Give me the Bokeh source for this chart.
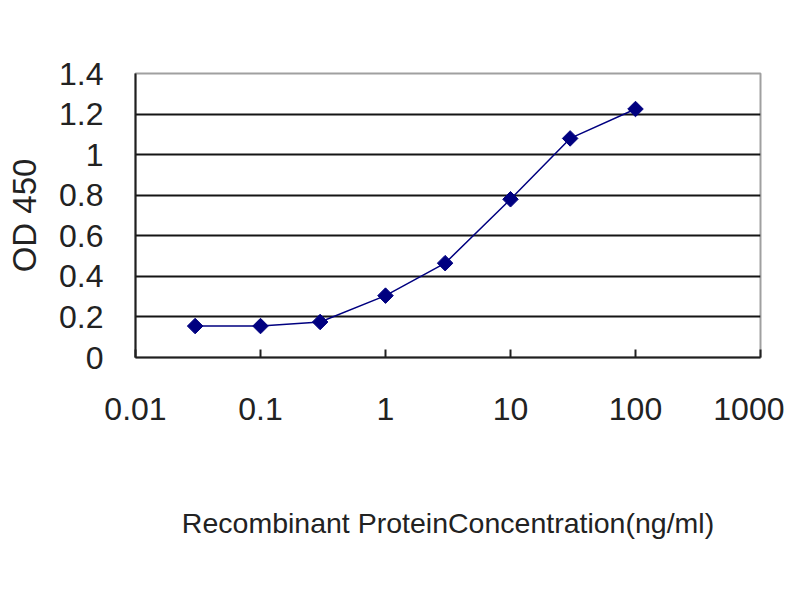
from bokeh.plotting import figure
from bokeh.models import FixedTicker
from bokeh.embed import file_html
from bokeh.resources import INLINE

# concentration (ng/ml) and OD 450
conc = [0.03, 0.1, 0.3, 1, 3, 10, 30, 100]
od450 = [0.155, 0.155, 0.175, 0.305, 0.465, 0.78, 1.08, 1.225]

x_ticks = [0.01, 0.1, 1, 10, 100, 1000]
x_labels = ["0.01", "0.1", "1", "10", "100", "1000"]
y_ticks = [0, 0.2, 0.4, 0.6, 0.8, 1.0, 1.2, 1.4]
y_labels = ["0", "0.2", "0.4", "0.6", "0.8", "1", "1.2", "1.4"]

FONT = "Liberation Sans"
NAVY = "#000080"

p = figure(width=784, height=584, x_axis_type="log",
           x_range=(0.01, 1000), y_range=(0, 1.4),
           output_backend="svg", toolbar_location=None,
           min_border_left=135, min_border_right=24,
           min_border_top=73, min_border_bottom=227)

p.background_fill_color = "white"
p.border_fill_color = "white"
p.outline_line_color = "#a0a0a0"
p.outline_line_width = 2

# horizontal grid lines, black like the original
p.xgrid.visible = False
p.ygrid.ticker = FixedTicker(ticks=y_ticks[1:-1])
p.ygrid.grid_line_color = "#151515"
p.ygrid.grid_line_width = 2

# x axis
p.xaxis.ticker = FixedTicker(ticks=x_ticks)
p.xaxis.major_label_overrides = dict(zip(x_ticks, x_labels))
p.xaxis.minor_tick_line_color = None
p.xaxis.major_tick_in = 8
p.xaxis.major_tick_out = 0
p.xaxis.major_label_standoff = 40
p.xaxis.axis_label = "Recombinant ProteinConcentration(ng/ml)"
p.xaxis.axis_label_standoff = 84

# y axis
p.yaxis.ticker = FixedTicker(ticks=y_ticks)
p.yaxis.major_label_overrides = dict(zip(y_ticks, y_labels))
p.yaxis.minor_tick_line_color = None
p.yaxis.major_tick_in = 0
p.yaxis.major_tick_out = 0
p.yaxis.major_label_standoff = 32
p.yaxis.axis_label = "OD 450"
p.yaxis.axis_label_standoff = 13

for ax in (p.xaxis, p.yaxis):
    ax.axis_line_color = "#202020"
    ax.axis_line_width = 2
    ax.major_tick_line_color = "#202020"
    ax.major_tick_line_width = 2
    ax.major_label_text_font = FONT
    ax.major_label_text_font_size = "32px"
    ax.major_label_text_color = "#222222"
    ax.axis_label_text_font = FONT
    ax.axis_label_text_font_style = "normal"
    ax.axis_label_text_color = "#222222"
p.xaxis.axis_label_text_font_size = "28.5px"
p.yaxis.axis_label_text_font_size = "33px"

p.line(conc, od450, line_color=NAVY, line_width=1.5)
p.scatter(conc, od450, marker="square", angle=0.785398, size=11,
          fill_color=NAVY, line_color=NAVY)

open("out.html", "w").write(file_html(p, INLINE))
